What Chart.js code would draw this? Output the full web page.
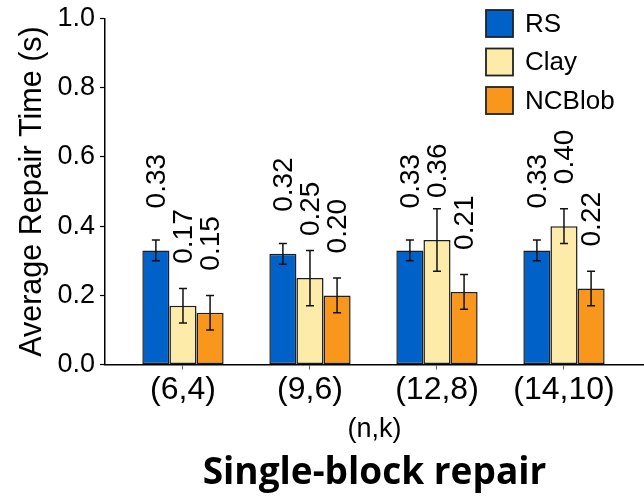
<!DOCTYPE html>
<html><head><meta charset="utf-8">
<script src="https://cdn.jsdelivr.net/npm/chart.js@4.4.1/dist/chart.umd.min.js"></script>
<style>html,body{margin:0;padding:0;background:#fff;}</style>
</head><body>
<canvas id="c" width="644" height="497" style="width:644px;height:497px;display:block"></canvas>
<script>
const categories = ['(6,4)', '(9,6)', '(12,8)', '(14,10)'];
const seriesNames = ['RS', 'Clay', 'NCBlob'];
const rsValues = [0.33, 0.32, 0.33, 0.33];
const clayValues = [0.17, 0.25, 0.36, 0.40];
const ncblobValues = [0.15, 0.20, 0.21, 0.22];
const rsErr = [0.03, 0.03, 0.03, 0.03];
const clayErr = [0.05, 0.08, 0.09, 0.05];
const ncblobErr = [0.05, 0.05, 0.05, 0.05];
const yTicks = [0.0, 0.2, 0.4, 0.6, 0.8, 1.0];

const FONT = "'Liberation Sans', Arial, sans-serif";
const colors = ['#0061c9', '#fdeba9', '#f9961c'];
const valueSets = [rsValues, clayValues, ncblobValues];
const errSets = [rsErr, clayErr, ncblobErr];

const datasets = seriesNames.map((name, s) => ({
  label: name,
  data: valueSets[s].map((v, i) => ({ x: i, y: v })),
  err: errSets[s],
  backgroundColor: colors[s],
  borderColor: '#1e1e1e',
  borderWidth: 1.5,
  borderSkipped: false,
  categoryPercentage: 0.64,
  barPercentage: 1.0
}));

const errorBarPlugin = {
  id: 'errorBars',
  afterDatasetsDraw(chart) {
    const ctx = chart.ctx, y = chart.scales.y;
    ctx.save();
    ctx.strokeStyle = '#111';
    ctx.lineWidth = 1.5;
    chart.data.datasets.forEach((ds, di) => {
      const meta = chart.getDatasetMeta(di);
      meta.data.forEach((el, i) => {
        const v = ds.data[i].y, e = ds.err[i];
        const top = y.getPixelForValue(v + e), bot = y.getPixelForValue(v - e);
        const cap = 4;
        ctx.beginPath();
        ctx.moveTo(el.x, top); ctx.lineTo(el.x, bot);
        ctx.moveTo(el.x - cap, top); ctx.lineTo(el.x + cap, top);
        ctx.moveTo(el.x - cap, bot); ctx.lineTo(el.x + cap, bot);
        ctx.stroke();
      });
    });
    ctx.restore();
  }
};

const valueLabelPlugin = {
  id: 'valueLabels',
  afterDatasetsDraw(chart) {
    const ctx = chart.ctx;
    ctx.save();
    ctx.fillStyle = '#000';
    ctx.font = '28px ' + FONT;
    ctx.textAlign = 'left';
    ctx.textBaseline = 'middle';
    chart.data.datasets.forEach((ds, di) => {
      const meta = chart.getDatasetMeta(di);
      meta.data.forEach((el, i) => {
        ctx.save();
        ctx.translate(el.x + 1, el.y - 42);
        ctx.rotate(-Math.PI / 2);
        ctx.fillText(ds.data[i].y.toFixed(2), 0, 0);
        ctx.restore();
      });
    });
    ctx.restore();
  }
};

const legendPlugin = {
  id: 'boxLegend',
  afterDraw(chart) {
    const ctx = chart.ctx;
    ctx.save();
    ctx.font = '26px ' + FONT;
    ctx.textBaseline = 'middle';
    ctx.textAlign = 'left';
    chart.data.datasets.forEach((ds, i) => {
      const bx = 486, by = 10 + i * 38.5, sz = 27;
      ctx.fillStyle = ds.backgroundColor;
      ctx.fillRect(bx, by, sz, sz);
      ctx.strokeStyle = '#222';
      ctx.lineWidth = 1.8;
      ctx.strokeRect(bx, by, sz, sz);
      ctx.fillStyle = '#000';
      ctx.fillText(ds.label, bx + 39, by + sz / 2 + 1);
    });
    ctx.restore();
  }
};

new Chart(document.getElementById('c'), {
  type: 'bar',
  data: { datasets },
  options: {
    responsive: false,
    animation: false,
    devicePixelRatio: 1,
    layout: { padding: { top: 14, left: 0, right: 0, bottom: 0 } },
    plugins: {
      legend: { display: false },
      tooltip: { enabled: false },
      title: {
        display: true,
        text: 'Single-block repair',
        position: 'bottom',
        fullSize: false,
        color: '#000',
        font: { family: "'Open Sans', 'Noto Sans', sans-serif", size: 37, weight: 'bold', lineHeight: 1.2 },
        padding: { top: 0, bottom: 1 }
      }
    },
    scales: {
      x: {
        type: 'linear',
        offset: false,
        min: -0.614,
        max: 3.63,
        afterBuildTicks: s => { s.ticks = categories.map((_, i) => ({ value: i })); },
        afterFit: s => { s.height = 87; },
        ticks: {
          callback: v => categories[v] ?? '',
          color: '#000',
          font: { family: FONT, size: 32, lineHeight: 1 },
          padding: 5,
          autoSkip: false,
          maxRotation: 0,
          includeBounds: false
        },
        grid: { drawOnChartArea: false, drawTicks: true, tickLength: 5, color: '#666', tickWidth: 1, offset: false },
        border: { color: '#000', width: 1.5 },
        title: {
          display: true, text: '(n,k)', color: '#000',
          font: { family: FONT, size: 27, lineHeight: 1.2 },
          padding: { top: 0, bottom: 6 }
        }
      },
      y: {
        min: 0,
        max: 1,
        afterBuildTicks: s => { s.ticks = yTicks.map(v => ({ value: v })); },
        afterFit: s => { s.width = 105; },
        ticks: {
          callback: v => Number(v).toFixed(1),
          color: '#000',
          font: { family: FONT, size: 27, lineHeight: 1 },
          padding: 5
        },
        grid: { drawOnChartArea: false, drawTicks: true, tickLength: 5, color: '#000', tickWidth: 1.2 },
        border: { color: '#000', width: 1.5 },
        title: {
          display: true, text: 'Average Repair Time (s)', color: '#000',
          font: { family: FONT, size: 30.5, lineHeight: 1.2 },
          padding: { top: 14, bottom: 0 }
        }
      }
    }
  },
  plugins: [errorBarPlugin, valueLabelPlugin, legendPlugin]
});
</script>
</body></html>
